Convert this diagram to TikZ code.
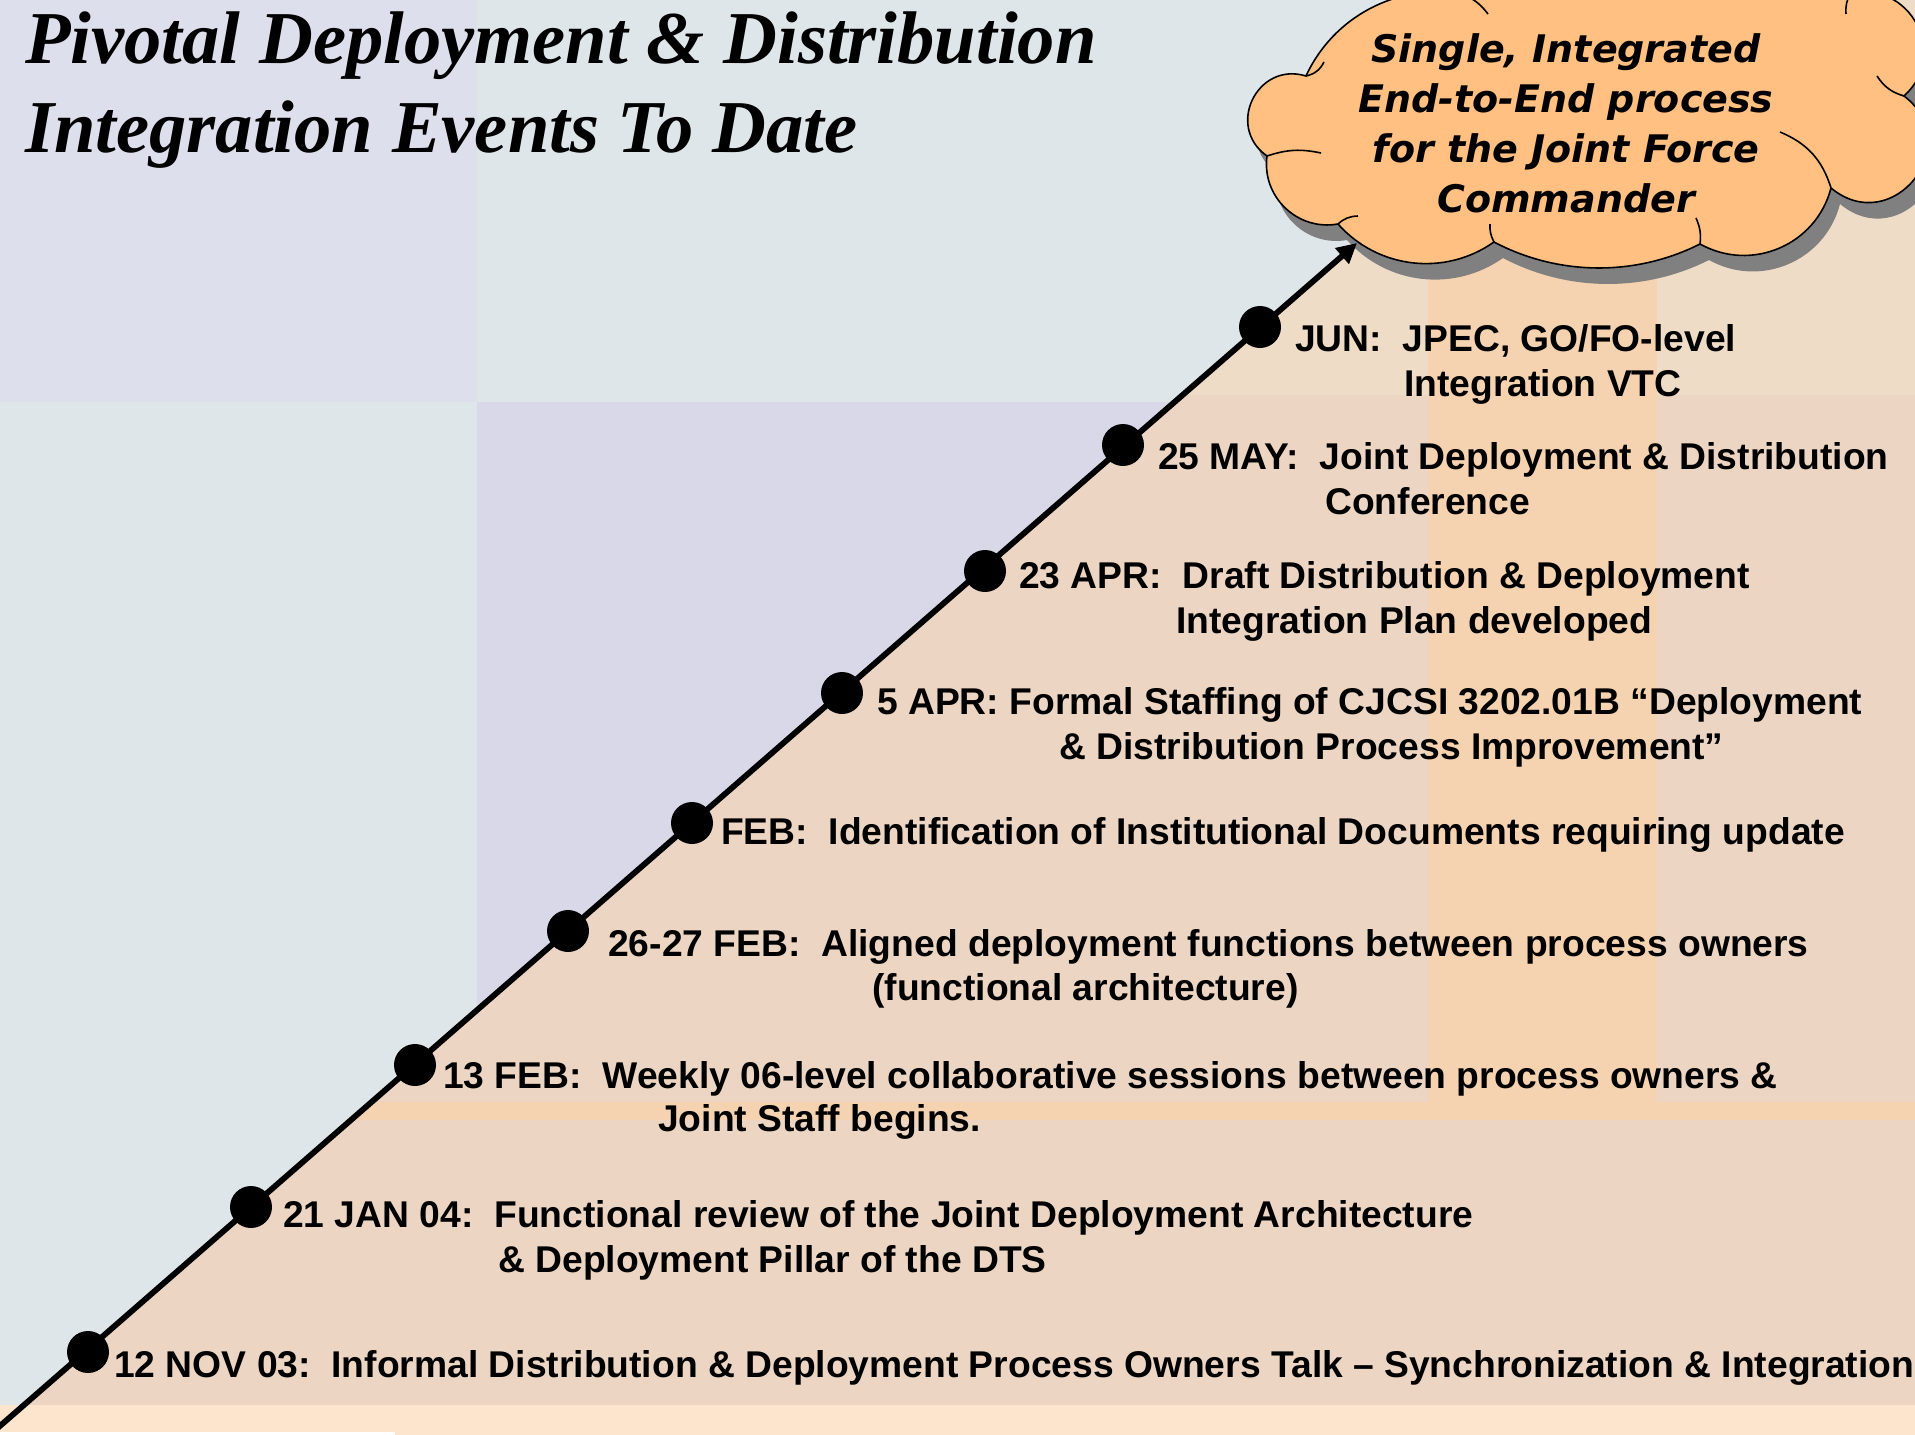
\documentclass[tikz,border=0pt]{standalone}
\usepackage{fontspec}
\setmainfont{Liberation Sans}
\newfontfamily\titlefont{Liberation Serif}
\newfontfamily\cloudfont{DejaVu Sans}
\usetikzlibrary{arrows.meta}
\definecolor{bgblue}{HTML}{DFE6E9}
\definecolor{lavA}{HTML}{DEDFEC}
\definecolor{lavB}{HTML}{D8D8E9}
\definecolor{peach}{HTML}{ECD6C3}
\definecolor{peachlt}{HTML}{EEDCC7}
\definecolor{band}{HTML}{F5D3B0}
\definecolor{strip}{HTML}{FDE5CD}
\definecolor{cloudorange}{HTML}{FFC081}
\definecolor{shadowgray}{HTML}{808080}
\frenchspacing
\begin{document}
\begin{tikzpicture}[x=1pt,y=-1pt,
  evtext/.style={anchor=base west, inner sep=0pt, font=\fontsize{37.25}{44}\selectfont\bfseries},
  evdot/.style={circle, fill=black, minimum size=42pt, inner sep=0pt},
  titletext/.style={anchor=base west, inner sep=0pt, font=\titlefont\fontsize{74.6}{90}\selectfont\bfseries\itshape},
  cloudtext/.style={anchor=base, inner sep=0pt, font=\cloudfont\fontsize{38}{50}\selectfont\bfseries\itshape},
  timeline/.style={line width=5.8pt, -{Triangle[length=20pt,width=20pt]}},
  cloudline/.style={draw=black, line width=1.6pt, line join=round},
]
\def\cloudoutline{(1306,76) to[bend left=37.6,looseness=0.95] (1462,-6)
  to[bend left=28.9,looseness=0.91] (1850,-6)
  to[bend left=75.9,looseness=1.37] (1904,96)
  to[bend left=91.2,looseness=1.74] (1831,188)
  to[bend left=52.3,looseness=1.06] (1700,244)
  to[bend left=27.3,looseness=0.90] (1494,242)
  to[bend left=41.8,looseness=0.98] (1338,224)
  to[bend left=53.9,looseness=1.07] (1267,156)
  to[bend left=81,looseness=1.47] (1306,76) -- cycle}
\useasboundingbox (0,0) rectangle (1915,1435);
\clip (0,0) rectangle (1915,1435);
% background
\fill[bgblue] (0,0) rectangle (1915,1435);
\fill[lavA] (0,0) rectangle (477,402);
\fill[lavB] (477,402) -- (1174,402) -- (477,1010) -- cycle;
\begin{scope}
  \clip (-10.4,1435) -- (1635,0) -- (1915,0) -- (1915,1435) -- cycle;
  \fill[peach] (0,0) rectangle (1915,1435);
  \fill[peachlt] (0,0) rectangle (1915,395);
  \fill[band] (1428,0) rectangle (1657,1120);
  \fill[band] (0,1102) rectangle (1915,1120);
\end{scope}
\fill[strip] (0,1405) rectangle (1915,1435);
\fill[white] (0,1432) rectangle (395,1435);

% title
\node[titletext] (title1) at (25,63) {Pivotal Deployment \& Distribution};
\node[titletext] (title2) at (25,152) {Integration Events To Date};

% cloud with shadow and inner puff arcs
\fill[shadowgray, shift={(9,16)}] \cloudoutline;
\path[cloudline, fill=cloudorange] \cloudoutline;
\draw[cloudline] (1306,76) to[bend right=25] (1324,62);
\draw[cloudline] (1462,-6) to[bend left=15] (1488,14);
\draw[cloudline] (1850,-6) to[bend right=15] (1846,14);
\draw[cloudline] (1904,96) to[bend left=20] (1877,76);
\draw[cloudline] (1831,188) to[bend right=25] (1780,132);
\draw[cloudline] (1700,244) to[bend right=15] (1696,218);
\draw[cloudline] (1494,242) to[bend left=15] (1490,224);
\draw[cloudline] (1338,224) to[bend left=20] (1358,216);
\draw[cloudline] (1267,156) to[bend left=15] (1321,153);
\node[cloudtext] (c1) at (1566,62) {Single, Integrated};
\node[cloudtext] (c2) at (1566,112) {End-to-End process};
\node[cloudtext] (c3) at (1566,162) {for the Joint Force};
\node[cloudtext] (c4) at (1566,212) {Commander};

% timeline
\coordinate (start) at (-10.4,1435);
\coordinate (tip) at (1357,243);
\draw[timeline] (start) -- (tip);

\node[evdot] (d1) at (88,1352) {};
\node[evdot] (d2) at (251,1207) {};
\node[evdot] (d3) at (415,1065) {};
\node[evdot] (d4) at (568,931) {};
\node[evdot] (d5) at (692,823) {};
\node[evdot] (d6) at (842,693) {};
\node[evdot] (d7) at (985,571) {};
\node[evdot] (d8) at (1123,445) {};
\node[evdot] (d9) at (1260,327) {};

% labels
\node[evtext] (t9a) at (1295,351) {JUN:\ \ JPEC, GO/FO-level};
\node[evtext] (t9b) at (1404,396) {Integration VTC};
\node[evtext] (t8a) at (1158,469) {25 MAY:\ \ Joint Deployment \& Distribution};
\node[evtext] (t8b) at (1325,514) {Conference};
\node[evtext] (t7a) at (1019,588) {23 APR:\ \ Draft Distribution \& Deployment};
\node[evtext] (t7b) at (1176,633) {Integration Plan developed};
\node[evtext] (t6a) at (877,714) {5 APR: Formal Staffing of CJCSI 3202.01B “Deployment};
\node[evtext] (t6b) at (1059,759) {\& Distribution Process Improvement”};
\node[evtext] (t5) at (721,844) {FEB:\ \ Identification of Institutional Documents requiring update};
\node[evtext] (t4a) at (608,956) {26-27 FEB:\ \ Aligned deployment functions between process owners};
\node[evtext] (t4b) at (872,1000) {(functional architecture)};
\node[evtext] (t3a) at (443,1088) {13 FEB:\ \ Weekly 06-level collaborative sessions between process owners \&};
\node[evtext] (t3b) at (658,1131) {Joint Staff begins.};
\node[evtext] (t2a) at (283,1227) {21 JAN 04:\ \ Functional review of the Joint Deployment Architecture};
\node[evtext] (t2b) at (498,1272) {\& Deployment Pillar of the DTS};
\node[evtext] (t1) at (114,1377) {12 NOV 03:\ \ Informal Distribution \& Deployment Process Owners Talk – Synchronization \& Integration};
\end{tikzpicture}
\end{document}
